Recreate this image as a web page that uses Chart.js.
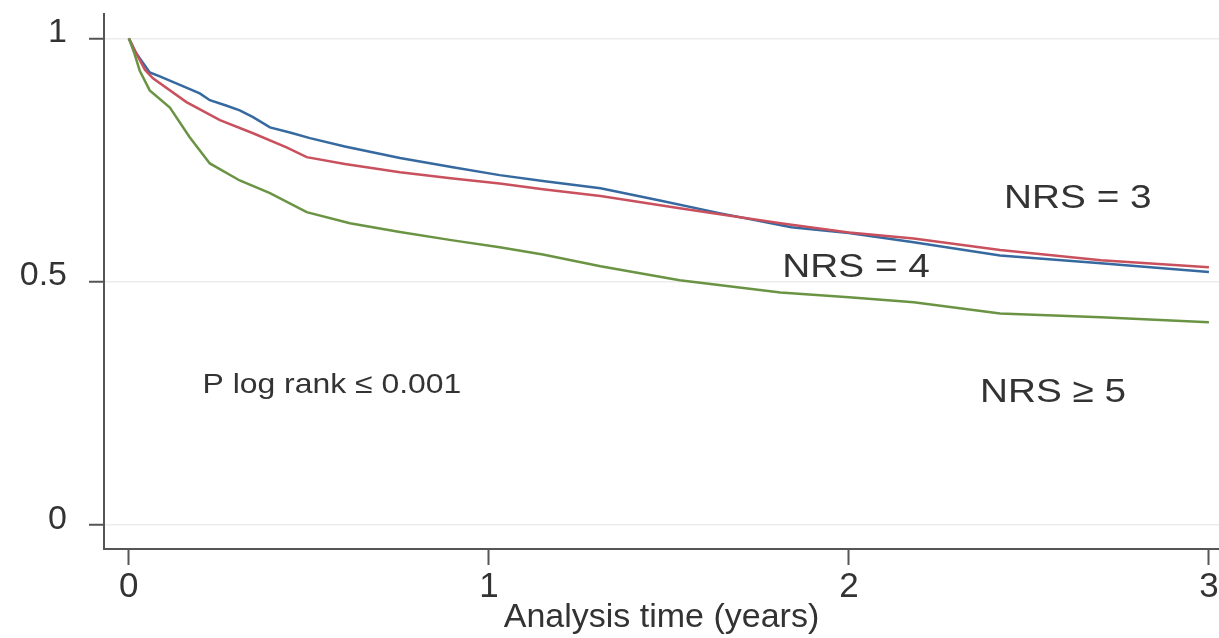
<!DOCTYPE html>
<html>
<head>
<meta charset="utf-8">
<script src="https://cdn.jsdelivr.net/npm/chart.js@4.4.1/dist/chart.umd.min.js"></script>
<style>
  html, body { margin: 0; padding: 0; background: #fff; }
  #wrap { width: 1219px; height: 638px; position: relative; }
</style>
</head>
<body>
<div id="wrap"><canvas id="km"></canvas></div>
<script>
// survival curves (time in years, survival fraction)
var nrs3Time = [0, 0.02, 0.058, 0.086, 0.14, 0.197, 0.225, 0.27, 0.308, 0.345, 0.392, 0.45, 0.503, 0.6, 0.753, 0.9, 1.03, 1.15, 1.31, 1.475, 1.64, 1.84, 2.0, 2.18, 2.42, 2.7, 3.0];
var nrs3Surv = [1, 0.97, 0.93, 0.922, 0.905, 0.887, 0.873, 0.862, 0.852, 0.838, 0.817, 0.806, 0.795, 0.778, 0.754, 0.735, 0.719, 0.707, 0.692, 0.667, 0.641, 0.612, 0.6, 0.581, 0.554, 0.538, 0.52];

var nrs4Time = [0, 0.02, 0.045, 0.067, 0.16, 0.253, 0.345, 0.438, 0.494, 0.6, 0.753, 0.9, 1.03, 1.15, 1.31, 1.53, 1.81, 2.0, 2.18, 2.42, 2.7, 3.0];
var nrs4Surv = [1, 0.97, 0.935, 0.918, 0.869, 0.832, 0.805, 0.776, 0.756, 0.742, 0.725, 0.712, 0.702, 0.69, 0.676, 0.651, 0.62, 0.601, 0.589, 0.565, 0.544, 0.53];

var nrs5Time = [0, 0.015, 0.03, 0.058, 0.114, 0.169, 0.225, 0.308, 0.392, 0.494, 0.614, 0.753, 0.9, 1.03, 1.15, 1.31, 1.53, 1.81, 2.0, 2.18, 2.42, 2.7, 3.0];
var nrs5Surv = [1, 0.97, 0.934, 0.893, 0.858, 0.797, 0.743, 0.708, 0.682, 0.643, 0.62, 0.602, 0.585, 0.571, 0.556, 0.532, 0.503, 0.478, 0.468, 0.458, 0.435, 0.427, 0.417];

var xTicks = [0, 1, 2, 3];
var yTicks = [0, 0.5, 1];
var yTickLabels = ['0', '0.5', '1'];

var xTitle = 'Analysis time (years)';
var noteTexts = ['NRS = 3', 'NRS = 4', 'NRS \u2265 5', 'P log rank \u2264 0.001'];

var toPoints = function(t, s) {
	var pts = [];
	for (var i = 0; i < t.length; i++) {
		pts.push({ x: t[i], y: s[i] });
	}
	return pts;
};

var font = '"Liberation Sans", Arial, sans-serif';
var axisColour = '#555555';

// where the text notes sit, in data units
var notePlaces = [
	{ x: 2.636, y: 0.671, size: 34 },
	{ x: 2.02, y: 0.528, size: 34 },
	{ x: 2.567, y: 0.273, size: 34 },
	{ x: 0.564, y: 0.287, size: 28 }
];

var notesPlugin = {
	id: 'notes',
	afterDatasetsDraw: function(chart) {
		var ctx = chart.ctx;
		var xs = chart.scales.x, ys = chart.scales.y;
		ctx.save();
		ctx.fillStyle = '#333333';
		ctx.textAlign = 'center';
		ctx.textBaseline = 'middle';
		for (var i = 0; i < noteTexts.length; i++) {
			var p = notePlaces[i];
			ctx.save();
			ctx.translate(xs.getPixelForValue(p.x), ys.getPixelForValue(p.y));
			ctx.scale(1.14, 1);
			ctx.font = p.size + 'px ' + font;
			ctx.fillText(noteTexts[i], 0, 0);
			ctx.restore();
		}
		ctx.restore();
	}
};

var line = function(label, pts, colour) {
	return {
		label: label,
		data: pts,
		borderColor: colour,
		borderWidth: 2.5,
		pointRadius: 0,
		tension: 0,
		fill: false
	};
};

var config = {
	type: 'line',
	data: {
		datasets: [
			line('NRS \u2265 5', toPoints(nrs5Time, nrs5Surv), '#6a9444'),
			line('NRS = 4', toPoints(nrs4Time, nrs4Surv), '#c9505d'),
			line('NRS = 3', toPoints(nrs3Time, nrs3Surv), '#35699f')
		]
	},
	options: {
		responsive: true,
		maintainAspectRatio: false,
		animation: false,
		layout: { padding: { top: 14, right: 0, bottom: 0, left: 0 } },
		plugins: {
			legend: { display: false },
			tooltip: { enabled: false }
		},
		scales: {
			x: {
				type: 'linear',
				min: -0.069,
				max: 3.028,
				afterBuildTicks: function(scale) {
					scale.ticks = xTicks.map(function(v) { return { value: v }; });
				},
				afterFit: function(scale) {
					scale.height = 89;
					scale.paddingLeft = 0;
					scale.paddingRight = 0;
				},
				grid: {
					drawOnChartArea: false,
					tickLength: 16,
					tickWidth: 2,
					tickColor: axisColour
				},
				border: { display: true, color: axisColour, width: 2 },
				ticks: {
					padding: 1,
					maxRotation: 0,
					autoSkip: false,
					color: '#333333',
					font: { family: font, size: 35 },
					callback: function(v) { return String(v); }
				},
				title: {
					display: true,
					text: xTitle,
					color: '#333333',
					padding: { top: 0, bottom: 0 },
					font: { family: font, size: 34 }
				}
			},
			y: {
				type: 'linear',
				min: -0.049,
				max: 1.05,
				afterBuildTicks: function(scale) {
					scale.ticks = yTicks.map(function(v) { return { value: v }; });
				},
				afterFit: function(scale) {
					scale.width = 104;
					scale.paddingTop = 0;
					scale.paddingBottom = 0;
				},
				grid: {
					color: '#ececec',
					lineWidth: 1.5,
					tickLength: 15,
					tickWidth: 2,
					tickColor: axisColour
				},
				border: { display: true, color: axisColour, width: 2 },
				ticks: {
					padding: 22,
					labelOffset: -6,
					color: '#333333',
					font: { family: font, size: 34 },
					callback: function(v) {
						var i = yTicks.indexOf(v);
						return i >= 0 ? yTickLabels[i] : '';
					}
				}
			}
		}
	},
	plugins: [notesPlugin]
};

var ctx = document.getElementById('km').getContext('2d');
window.kmChart = new Chart(ctx, config);
</script>
</body>
</html>
